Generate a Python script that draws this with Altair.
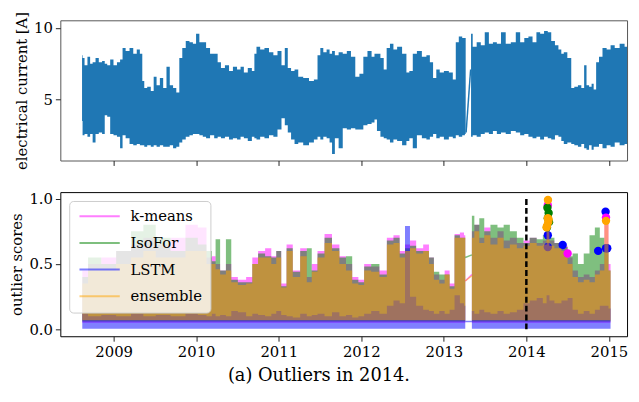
import altair as alt
import pandas as pd

FONT = "DejaVu Serif"

# ---------------- top panel: electrical current (upper / lower envelope) ----------------
cur_year = [
    2008.617, 2008.63, 2008.665, 2008.70, 2008.73, 2008.761, 2008.80, 2008.84, 2008.88, 2008.904,
    2008.94, 2008.976, 2009.02, 2009.06, 2009.096, 2009.12, 2009.17, 2009.215, 2009.26, 2009.30,
    2009.335, 2009.359, 2009.383, 2009.43, 2009.47, 2009.50, 2009.54, 2009.58, 2009.62, 2009.66,
    2009.70, 2009.74, 2009.778, 2009.813, 2009.85, 2009.897, 2009.94, 2009.98, 2010.017, 2010.06,
    2010.10, 2010.14, 2010.196, 2010.24, 2010.28, 2010.32, 2010.376, 2010.42, 2010.47, 2010.52,
    2010.555, 2010.60, 2010.65, 2010.699, 2010.711, 2010.75, 2010.80, 2010.854, 2010.91, 2010.96,
    2011.01, 2011.057, 2011.09, 2011.129, 2011.17, 2011.213, 2011.26, 2011.333, 2011.40, 2011.452,
    2011.488, 2011.52, 2011.56, 2011.60, 2011.632, 2011.66, 2011.70, 2011.751, 2011.80, 2011.85,
    2011.90, 2011.955, 2012.00, 2012.05, 2012.10, 2012.15, 2012.17, 2012.21, 2012.254, 2012.29,
    2012.325, 2012.37, 2012.409, 2012.46, 2012.529, 2012.565, 2012.60, 2012.648, 2012.70, 2012.768,
    2012.81, 2012.852, 2012.888, 2012.93, 2012.971, 2013.031, 2013.091, 2013.127, 2013.163, 2013.20,
    2013.246, 2013.265, 2013.33, 2013.37, 2013.426, 2013.47, 2013.522, 2013.57, 2013.62, 2013.665,
    2013.72, 2013.78, 2013.844, 2013.90, 2013.95, 2014.00, 2014.05, 2014.10, 2014.144, 2014.19,
    2014.239, 2014.28, 2014.323, 2014.37, 2014.407, 2014.44, 2014.467, 2014.526, 2014.562, 2014.60,
    2014.65, 2014.682, 2014.718, 2014.74, 2014.78, 2014.801, 2014.83, 2014.861, 2014.90, 2014.945,
    2015.00, 2015.041, 2015.10, 2015.16, 2015.22, 2015.27,
]
cur_hi = [
    8.1, 7.9, 7.4, 8.0, 7.5, 7.6, 7.9, 7.6, 7.7, 7.5,
    7.4, 7.8, 7.4, 7.6, 7.8, 8.6, 8.4, 8.6, 8.2, 8.5,
    8.2, 6.3, 5.8, 5.9, 5.6, 6.6, 6.0, 6.5, 5.8, 7.3,
    6.0, 5.8, 5.5, 7.9, 8.6, 9.1, 9.0, 8.9, 9.6, 9.0,
    9.0, 8.6, 8.2, 8.2, 7.6, 7.2, 7.4, 7.0, 7.3, 7.1,
    7.3, 6.9, 7.2, 7.0, 8.2, 8.7, 8.5, 8.6, 8.3, 8.1,
    8.4, 7.4, 8.6, 7.2, 7.0, 7.1, 6.6, 6.5, 6.3, 6.4,
    8.1, 8.6, 8.3, 8.5, 8.2, 8.4, 8.1, 8.3, 8.2, 8.4,
    8.0, 6.6, 6.8, 8.0, 8.4, 8.0, 8.2, 8.2, 7.9, 7.1,
    8.6, 8.9, 8.5, 8.7, 8.2, 6.9, 7.0, 8.2, 8.4, 8.0,
    8.1, 7.6, 6.5, 7.1, 6.9, 7.0, 6.9, 6.4, 9.0, 9.4,
    9.3, 9.3, 9.6, 8.7, 9.0, 8.8, 9.7, 8.9, 9.0, 8.9,
    9.7, 8.9, 9.0, 9.7, 9.0, 9.3, 9.4, 9.0, 9.7, 9.6,
    9.8, 9.7, 9.1, 8.8, 8.5, 8.2, 8.3, 7.9, 5.8, 5.9,
    6.0, 5.8, 7.4, 6.0, 5.9, 6.1, 5.7, 7.6, 8.0, 8.6,
    8.5, 8.8, 8.6, 8.9, 8.7, 8.8,
]
cur_lo = [
    3.5, 2.5, 2.6, 2.4, 2.6, 2.0, 2.6, 2.7, 2.6, 3.9,
    3.8, 2.6, 2.5, 2.4, 1.6, 2.5, 2.3, 1.9, 1.8, 1.9,
    1.8, 1.8, 1.7, 1.8, 1.7, 1.8, 1.7, 1.8, 1.7, 1.7,
    1.8, 1.6, 1.7, 2.0, 2.2, 2.4, 2.5, 2.6, 2.6, 2.5,
    2.4, 2.3, 2.5, 2.3, 2.4, 2.3, 2.4, 2.2, 2.3, 2.2,
    2.4, 2.3, 2.1, 2.4, 2.3, 2.2, 2.4, 2.3, 2.5, 2.4,
    2.9, 3.7, 3.2, 2.7, 2.2, 1.9, 2.0, 1.8, 2.0, 2.2,
    2.4, 2.2, 2.4, 2.3, 2.0, 1.2, 2.3, 1.6, 3.0, 2.9,
    3.0, 2.9, 2.9, 3.2, 3.3, 3.4, 3.6, 2.8, 2.4, 2.3,
    2.2, 2.0, 2.2, 2.1, 1.8, 2.1, 2.3, 1.6, 2.5, 2.3,
    2.2, 2.4, 2.6, 2.3, 2.4, 2.2, 2.4, 2.3, 2.5, 2.4,
    2.5, 2.6, 2.4, 2.5, 2.4, 2.6, 2.7, 2.6, 2.8, 2.6,
    2.7, 2.6, 2.8, 2.7, 2.5, 2.6, 2.4, 2.3, 2.4, 2.2,
    2.4, 2.3, 2.2, 2.5, 2.4, 2.1, 1.9, 2.0, 1.9, 1.8,
    1.7, 1.9, 1.6, 1.5, 1.8, 1.5, 1.7, 1.7, 1.9, 1.6,
    1.8, 1.7, 2.0, 1.8, 1.9, 2.0,
]
cur_gap_start = 2013.265
cur_link_year = [2013.27, 2013.325]
cur_link_val = [2.7, 7.1]

# ---------------- bottom panel: outlier scores (upper envelopes) ----------------
score_year = [
    2008.62, 2008.76, 2008.94, 2009.12, 2009.30, 2009.42, 2009.60, 2009.78, 2009.96, 2010.08,
    2010.17, 2010.21, 2010.26, 2010.32, 2010.40, 2010.45, 2010.56, 2010.65, 2010.71, 2010.79,
    2010.88, 2010.94, 2011.00, 2011.06, 2011.13, 2011.21, 2011.31, 2011.37, 2011.43, 2011.51,
    2011.60, 2011.69, 2011.78, 2011.85, 2011.93, 2012.00, 2012.07, 2012.17, 2012.27, 2012.35,
    2012.43, 2012.50, 2012.56, 2012.62, 2012.71, 2012.79, 2012.85, 2012.91, 2012.98, 2013.04,
    2013.10, 2013.16, 2013.23, 2013.26, 2013.34, 2013.40, 2013.46, 2013.52, 2013.61, 2013.69,
    2013.76, 2013.84, 2013.93, 2014.00, 2014.08, 2014.17, 2014.23, 2014.26, 2014.30, 2014.38,
    2014.47, 2014.53, 2014.59, 2014.66, 2014.73, 2014.80, 2014.86, 2014.92, 2014.97, 2015.02,
]
kmeans_hi = [
    .45, .50, .55, .60, .65, .70, .65, .70, .80, .78,
    .55, .56, .50, .45, .50, .40, .38, .40, .55, .60,
    .62, .56, .60, .35, .65, .45, .62, .40, .50, .60,
    .73, .65, .56, .50, .40, .38, .50, .48, .45, .70,
    .72, .60, .65, .68, .62, .65, .55, .42, .38, .45,
    .35, .73, .74, .72, .75, .80, .70, .78, .70, .75,
    .68, .70, .66, .68, .70, .66, .68, .70, .68, .66,
    .64, .55, .45, .40, .42, .40, .45, .50, .86, .50,
]
isofor_hi = [
    .40, .55, .50, .60, .75, .80, .70, .60, .70, .65,
    .60, .52, .69, .45, .69, .38, .36, .36, .50, .58,
    .56, .55, .60, .33, .62, .44, .60, .62, .45, .58,
    .70, .62, .55, .56, .38, .36, .48, .50, .42, .68,
    .70, .58, .62, .64, .60, .60, .55, .44, .42, .42,
    .33, .72, .70, .70, .87, .80, .85, .75, .80, .78,
    .80, .75, .70, .66, .70, .69, .72, .75, .70, .66,
    .63, .56, .58, .50, .58, .72, .78, .70, .60, .45,
]
lstm_hi = [
    .12, .10, .11, .10, .12, .10, .11, .10, .12, .11,
    .10, .12, .10, .11, .10, .14, .13, .10, .12, .11,
    .10, .12, .14, .11, .10, .09, .12, .10, .11, .12,
    .10, .13, .10, .11, .09, .10, .12, .14, .12, .18,
    .22, .20, .79, .25, .18, .15, .14, .12, .14, .12,
    .15, .26, .20, .18, .14, .12, .15, .13, .12, .14,
    .12, .13, .15, .20, .22, .24, .20, .26, .22, .20,
    .22, .24, .15, .12, .14, .12, .15, .18, .18, .16,
]
ensemble_hi = [
    .35, .45, .45, .50, .55, .60, .55, .55, .60, .60,
    .50, .50, .46, .42, .45, .36, .34, .35, .50, .55,
    .55, .50, .55, .32, .60, .40, .56, .36, .44, .55,
    .66, .60, .50, .45, .35, .34, .45, .44, .40, .65,
    .66, .55, .60, .62, .58, .60, .50, .38, .35, .42,
    .31, .70, .70, .70, .70, .75, .66, .72, .65, .70,
    .62, .65, .62, .64, .66, .64, .65, .99, .64, .62,
    .60, .50, .40, .36, .38, .36, .42, .45, .83, .45,
]
kmeans_floor = 0.05
isofor_floor = 0.06
lstm_floor = 0.005
ensemble_floor = 0.07
score_gap_start = 2013.26

# thin connecting lines drawn across the data gap in 2013
link_year = [2013.26, 2013.34]
link_kmeans = [0.37, 0.42]
link_isofor = [0.55, 0.57]
link_lstm = [0.06, 0.06]
link_ensemble = [0.37, 0.41]

# outliers flagged in 2014
kmeans_pts_year = [2014.26, 2014.50, 2014.965]
kmeans_pts_val = [0.95, 0.58, 0.855]
isofor_pts_year = [2014.255, 2014.27, 2014.26, 2014.275, 2014.25]
isofor_pts_val = [0.93, 0.89, 0.85, 0.82, 0.78]
lstm_pts_year = [2014.26, 2014.26, 2014.44, 2014.87, 2014.96, 2014.965, 2014.98]
lstm_pts_val = [0.72, 0.63, 0.645, 0.60, 0.90, 0.62, 0.62]
ensemble_pts_year = [2014.262, 2014.26, 2014.27, 2014.265, 2014.25, 2014.245, 2014.965]
ensemble_pts_val = [0.99, 0.85, 0.84, 0.82, 0.79, 0.78, 0.83]

split_year = [2014.0]
split_lo = [0.0]
split_hi = [1.0]

methods = ["k-means", "IsoFor", "LSTM", "ensemble"]
method_colors = ["#ff00ff", "#008000", "#0000ff", "#ffa500"]
year_ticks = [2009, 2010, 2011, 2012, 2013, 2014, 2015]

# ---------------- chart ----------------
X_DOMAIN = [2008.354, 2015.22]
W = 574

x_top = alt.X("year:Q", scale=alt.Scale(domain=X_DOMAIN, nice=False, zero=False),
              axis=alt.Axis(values=year_ticks, labels=False, title=None))
x_bot = alt.X("year:Q", scale=alt.Scale(domain=X_DOMAIN, nice=False, zero=False),
              axis=alt.Axis(values=year_ticks, format="d", title=None))

top_df = pd.DataFrame({"year": cur_year, "hi": cur_hi, "lo": cur_lo})
top_df["seg"] = (top_df["year"] > cur_gap_start).astype(int)
y_top = alt.Y("hi:Q", scale=alt.Scale(domain=[0.74, 10.54], nice=False, zero=False),
              axis=alt.Axis(values=[5, 10], title="electrical current [A]"))

top_band = alt.Chart(top_df).mark_area(color="#1f77b4", opacity=1, clip=True,
                                       interpolate="step").encode(
    x=x_top, y=y_top, y2="lo:Q", detail="seg:N")
top_link = alt.Chart(pd.DataFrame({"year": cur_link_year, "hi": cur_link_val})).mark_line(
    color="#1f77b4", strokeWidth=1.5, clip=True).encode(x=x_top, y=y_top)

top = alt.layer(top_band, top_link).properties(
    width=W, height=142, view=alt.ViewBackground(stroke="#555555", strokeWidth=1))

y_bot_scale = alt.Scale(domain=[-0.053, 1.05], nice=False, zero=False)
y_bot_axis = alt.Axis(values=[0.0, 0.5, 1.0], format=".1f", title="outlier scores")


def band(values, floor, color):
    d = pd.DataFrame({"year": score_year, "hi": values})
    d["lo"] = floor
    d["seg"] = (d["year"] > score_gap_start).astype(int)
    return alt.Chart(d).mark_area(color=color, opacity=0.5, clip=True,
                                  interpolate="step").encode(
        x=x_bot, y=alt.Y("hi:Q", scale=y_bot_scale, axis=y_bot_axis), y2="lo:Q", detail="seg:N")


def points(years, vals, color):
    d = pd.DataFrame({"year": years, "val": vals})
    return alt.Chart(d).mark_circle(size=72, opacity=1, color=color, clip=True).encode(
        x=x_bot, y=alt.Y("val:Q", scale=y_bot_scale, axis=y_bot_axis))


link_df = pd.DataFrame({
    "year": link_year * 4,
    "val": link_kmeans + link_isofor + link_lstm + link_ensemble,
    "method": [m for m in methods for _ in link_year],
})
links = alt.Chart(link_df).mark_line(opacity=0.5, strokeWidth=1.5, clip=True).encode(
    x=x_bot,
    y=alt.Y("val:Q", scale=y_bot_scale, axis=y_bot_axis),
    stroke=alt.Stroke("method:N", scale=alt.Scale(domain=methods, range=method_colors),
                      legend=alt.Legend(
                          title=None, orient="none", legendX=9, legendY=9, direction="vertical",
                          symbolType="M-1,0H7", symbolSize=104, symbolStrokeWidth=2,
                          labelOffset=39, labelFont=FONT, labelFontSize=15, labelColor="black",
                          labelLimit=200, rowPadding=11, padding=8,
                          fillColor="rgba(255,255,255,0.8)", strokeColor="#cccccc",
                          cornerRadius=4)),
    detail="method:N",
)

split = alt.Chart(pd.DataFrame({"year": split_year, "lo": split_lo, "hi": split_hi})).mark_rule(
    color="black", strokeDash=[6, 3], strokeWidth=2.5).encode(
    x=x_bot, y=alt.Y("lo:Q", scale=y_bot_scale, axis=y_bot_axis), y2="hi:Q")

bottom = alt.layer(
    band(kmeans_hi, kmeans_floor, method_colors[0]),
    band(isofor_hi, isofor_floor, method_colors[1]),
    band(lstm_hi, lstm_floor, method_colors[2]),
    points(lstm_pts_year, lstm_pts_val, method_colors[2]),
    band(ensemble_hi, ensemble_floor, method_colors[3]),
    links,
    points(kmeans_pts_year, kmeans_pts_val, method_colors[0]),
    points(isofor_pts_year, isofor_pts_val, method_colors[1]),
    points(ensemble_pts_year, ensemble_pts_val, method_colors[3]),
    split,
).properties(width=W, height=146, view=alt.ViewBackground(stroke="black", strokeWidth=1))

chart = alt.vconcat(top, bottom, spacing=21).resolve_scale(
    stroke="independent").resolve_legend(stroke="independent").properties(
    title=alt.TitleParams("(a) Outliers in 2014.", orient="bottom", anchor="middle",
                          font=FONT, fontSize=18, fontWeight="normal", color="black", offset=7),
    padding={"left": 1, "top": 0, "right": 2, "bottom": 4},
    background="white",
).configure_axis(
    labelFont=FONT, labelFontSize=15, labelColor="black",
    titleFont=FONT, titleFontSize=15, titleFontWeight="normal", titleColor="black",
    tickColor="#222222", tickSize=5, tickWidth=1, labelPadding=3, titlePadding=4,
    domain=False, grid=False,
).configure_axisX(labelPadding=4)

chart.save("out.html", embed_options={"renderer": "svg", "actions": False})
